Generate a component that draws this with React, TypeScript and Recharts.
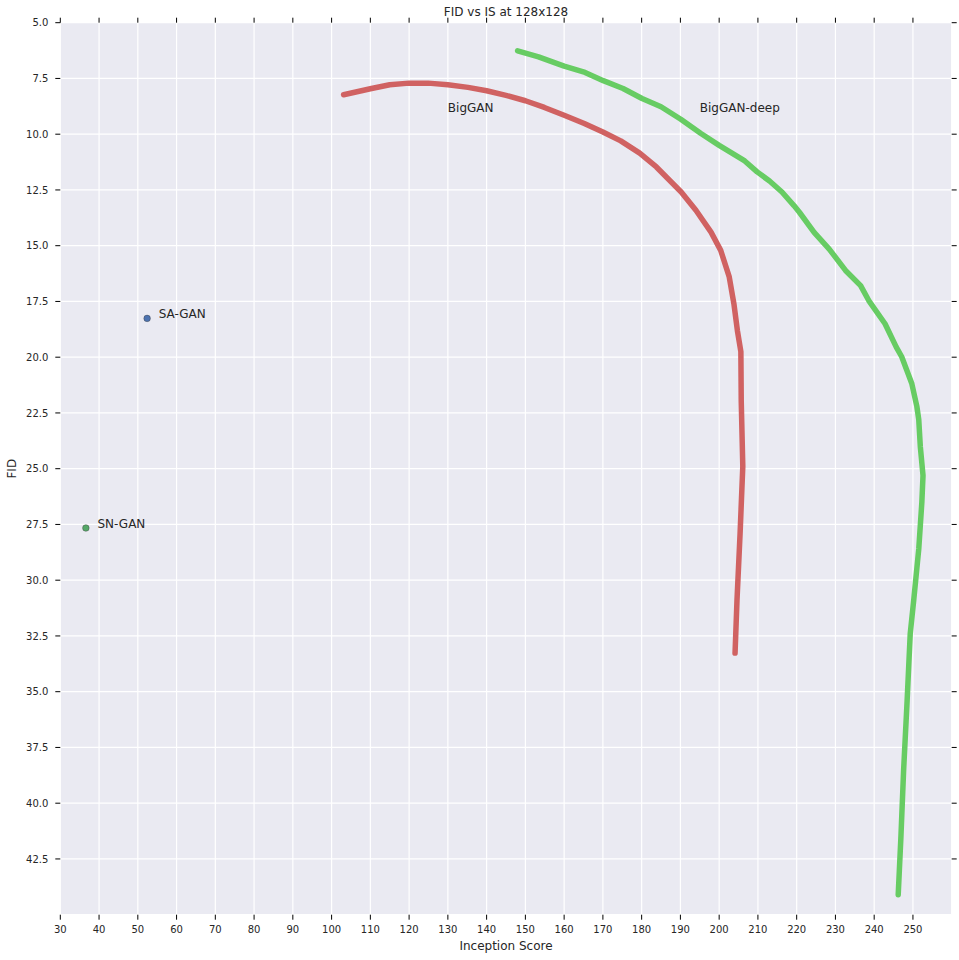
import {
  CartesianGrid,
  ComposedChart,
  Line,
  ReferenceDot,
  Scatter,
  XAxis,
  YAxis,
} from 'recharts';

// Inception Score (x) / FID (y) along the truncation sweep
const bigganIS = [
  103.1, 110, 115, 120, 124.9, 130, 135.2, 140, 145, 150, 154.9, 160, 165.2, 170,
  174.6, 179.5, 183.8, 190.2, 194.0, 197.9, 200.4, 202.6, 203.8, 204.7, 205.6,
  205.7, 206.1, 205.4, 204.6, 204.1,
];
const bigganFID = [
  8.23, 7.96, 7.78, 7.71, 7.71, 7.78, 7.9, 8.05, 8.26, 8.5, 8.8, 9.15, 9.52, 9.9,
  10.3, 10.85, 11.47, 12.59, 13.41, 14.39, 15.21, 16.4, 17.6, 18.8, 19.75, 22.0,
  24.9, 27.9, 30.9, 33.27,
];

const deepIS = [
  148.0, 153.4, 160, 165.4, 170.1, 175.2, 180.1, 185.0, 190.1, 195.3, 200, 206.6,
  209.8, 213, 216.2, 219.3, 220.7, 224.5, 228.4, 232.6, 236.5, 238.6, 242.8, 245.7,
  247.1, 249.7, 251.0, 251.5, 251.9, 252.6, 252.3, 251.5, 250.2, 249.3, 248.5,
  247.6, 246.9, 246.2,
];
const deepFID = [
  6.26, 6.53, 6.95, 7.23, 7.6, 7.95, 8.4, 8.77, 9.33, 9.97, 10.5, 11.2, 11.69,
  12.1, 12.59, 13.2, 13.5, 14.4, 15.15, 16.11, 16.79, 17.46, 18.5, 19.55, 19.98,
  21.18, 22.2, 22.8, 24.0, 25.3, 26.5, 28.6, 30.9, 32.4, 35.4, 38.5, 41.5, 44.1,
];

const baselineNames = ['SA-GAN', 'SN-GAN'];
const baselineIS = [52.4, 36.6];
const baselineFID = [18.26, 27.66];
const baselineColors = ['#4C72B0', '#55A868'];

const curveLabels = ['BigGAN', 'BigGAN-deep'];
const curveLabelIS = [130, 195];
const curveLabelFID = [9.0, 9.0];

const xTicks = [30, 40, 50, 60, 70, 80, 90, 100, 110, 120, 130, 140, 150, 160, 170, 180, 190, 200, 210, 220, 230, 240, 250];
const yTicks = [5, 7.5, 10, 12.5, 15, 17.5, 20, 22.5, 25, 27.5, 30, 32.5, 35, 37.5, 40, 42.5];

const FONT = '"DejaVu Sans", sans-serif';
const TEXT = '#262626';

const biggan = bigganIS.map((x, i) => ({ x, y: bigganFID[i] }));
const deep = deepIS.map((x, i) => ({ x, y: deepFID[i] }));

const noLabel = () => <g />;

export default function App() {
  return (
    <div style={{ position: 'absolute', left: 0, top: 0, width: 959, height: 960, fontFamily: FONT }}>
      <div
        style={{
          position: 'absolute',
          left: 60,
          width: 892,
          top: 5,
          textAlign: 'center',
          fontSize: 12,
          color: TEXT,
          lineHeight: '14px',
        }}
      >
        FID vs IS at 128x128
      </div>
      <ComposedChart
        width={959}
        height={960}
        margin={{ top: 17.7, right: 2.3, bottom: 0, left: 0 }}
      >
        <CartesianGrid fill='#EAEAF2' stroke='#ffffff' strokeWidth={1.2} />
        <XAxis
          dataKey='x'
          type='number'
          domain={[30, 260]}
          allowDataOverflow
          ticks={xTicks}
          height={45.3}
          axisLine={false}
          tickSize={5}
          tickMargin={6}
          tickLine={{ stroke: '#000' }}
          tick={{ fontSize: 10, fill: TEXT, fontFamily: FONT }}
          label={({ viewBox }: any) => (
            <text
              x={viewBox.x + viewBox.width / 2}
              y={viewBox.y + viewBox.height - 10}
              textAnchor='middle'
              fontSize={12}
              fill={TEXT}
              fontFamily={FONT}
            >
              Inception Score
            </text>
          )}
        />
        <XAxis
          xAxisId='top'
          orientation='top'
          dataKey='x'
          type='number'
          domain={[30, 260]}
          allowDataOverflow
          ticks={xTicks}
          height={5}
          axisLine={false}
          tickSize={5}
          tickMargin={0}
          tickLine={{ stroke: '#000' }}
          tick={noLabel}
        />
        <YAxis
          type='number'
          reversed
          domain={[5, 45]}
          allowDataOverflow
          ticks={yTicks}
          width={60.3}
          axisLine={false}
          tickSize={5}
          tickMargin={7}
          tickLine={{ stroke: '#000' }}
          tickFormatter={(v: number) => v.toFixed(1)}
          tick={{ fontSize: 10, fill: TEXT, fontFamily: FONT }}
          label={({ viewBox }: any) => {
            const cx = 16;
            const cy = viewBox.y + viewBox.height / 2;
            return (
              <text
                x={cx}
                y={cy}
                transform={`rotate(-90 ${cx} ${cy})`}
                textAnchor='middle'
                fontSize={12}
                fill={TEXT}
                fontFamily={FONT}
              >
                FID
              </text>
            );
          }}
        />
        <YAxis
          yAxisId='right'
          orientation='right'
          type='number'
          reversed
          domain={[5, 45]}
          allowDataOverflow
          ticks={yTicks}
          width={5}
          axisLine={false}
          tickSize={5}
          tickMargin={0}
          tickLine={{ stroke: '#000' }}
          tick={noLabel}
        />
        <Line
          data={biggan}
          dataKey='y'
          type='linear'
          stroke='#D06262'
          strokeWidth={5.5}
          strokeLinecap='round'
          strokeLinejoin='round'
          dot={false}
          activeDot={false}
          isAnimationActive={false}
        />
        <Line
          data={deep}
          dataKey='y'
          type='linear'
          stroke='#67CC63'
          strokeWidth={5.5}
          strokeLinecap='round'
          strokeLinejoin='round'
          dot={false}
          activeDot={false}
          isAnimationActive={false}
        />
        {/* invisible series so the mirrored tick axes get a domain */}
        <Line
          data={deep}
          dataKey='y'
          xAxisId='top'
          yAxisId='right'
          stroke='none'
          dot={false}
          activeDot={false}
          isAnimationActive={false}
        />
        {baselineNames.map((name, i) => (
          <Scatter
            key={name}
            data={[{ x: baselineIS[i], y: baselineFID[i] }]}
            dataKey='y'
            isAnimationActive={false}
            shape={(p: any) => (
              <g>
                <circle cx={p.cx} cy={p.cy} r={3.3} fill={baselineColors[i]} stroke='#3a3a3a' strokeWidth={0.4} />
                <text x={p.cx + 11.6} y={p.cy} fontSize={12} fill={TEXT} fontFamily={FONT}>
                  {name}
                </text>
              </g>
            )}
          />
        ))}
        {curveLabels.map((name, i) => (
          <ReferenceDot
            key={name}
            x={curveLabelIS[i]}
            y={curveLabelFID[i]}
            r={0}
            shape={(p: any) => (
              <text x={p.cx} y={p.cy} fontSize={12} fill={TEXT} fontFamily={FONT}>
                {name}
              </text>
            )}
          />
        ))}
      </ComposedChart>
    </div>
  );
}
